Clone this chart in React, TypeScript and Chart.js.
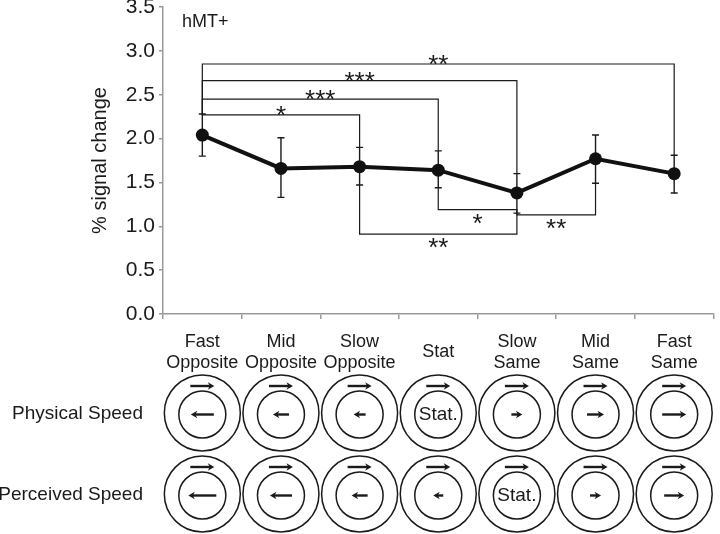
import { useEffect, useRef } from "react";
import { Chart, registerables } from "chart.js";

Chart.register(...registerables);

const categories: (string | string[])[] = [
  ["Fast", "Opposite"],
  ["Mid", "Opposite"],
  ["Slow", "Opposite"],
  "Stat",
  ["Slow", "Same"],
  ["Mid", "Same"],
  ["Fast", "Same"],
];
const meanSignal = [2.04, 1.66, 1.68, 1.64, 1.38, 1.77, 1.6];
const errUpper = [2.28, 2.01, 1.9, 1.86, 1.6, 2.04, 1.81];
const errLower = [1.8, 1.33, 1.47, 1.44, 1.15, 1.49, 1.38];

const yMin = 0;
const yMax = 3.5;
const yStep = 0.5;

const bracketFrom = [0, 0, 0, 0, 2, 3, 4];
const bracketTo = [6, 4, 3, 2, 4, 4, 5];
const bracketLevel = [2.85, 2.66, 2.45, 2.27, 0.91, 1.19, 1.13];
const bracketLabel = ["**", "***", "***", "*", "**", "*", "**"];

// inner-ring drift speed (negative = leftwards, 0 = stationary)
const physicalSpeed = [-2.3, -1.6, -1.2, 0, 1.1, 1.7, 2.4];
const perceivedSpeed = [-2.8, -2.2, -1.6, -1.0, 0, 1.1, 2.0];
const rowLabels = ["Physical Speed", "Perceived Speed"];
const statLabel = "Stat.";
const panelTitle = "hMT+";
const yTitle = "% signal change";

const FONT = "'Liberation Sans', Arial, Helvetica, sans-serif";

function arrow(ctx: CanvasRenderingContext2D, x1: number, x2: number, y: number, lw: number) {
  const dir = x2 > x1 ? 1 : -1;
  const head = 6.5;
  ctx.lineWidth = lw;
  ctx.beginPath();
  ctx.moveTo(x1, y);
  ctx.lineTo(x2 - dir * head * 0.6, y);
  ctx.stroke();
  ctx.beginPath();
  ctx.moveTo(x2, y);
  ctx.lineTo(x2 - dir * head, y - 3.8);
  ctx.lineTo(x2 - dir * head * 0.7, y);
  ctx.lineTo(x2 - dir * head, y + 3.8);
  ctx.closePath();
  ctx.fill();
}

const overlayPlugin = {
  id: "overlay",
  beforeDatasetsDraw(chart: any) {
    const ctx = chart.ctx as CanvasRenderingContext2D;
    const xs = chart.scales.x;
    const ys = chart.scales.y;
    ctx.save();
    ctx.strokeStyle = "#1a1a1a";
    // error bars
    ctx.lineWidth = 1.4;
    for (let i = 0; i < meanSignal.length; i++) {
      const px = xs.getPixelForValue(i);
      const top = ys.getPixelForValue(errUpper[i]);
      const bot = ys.getPixelForValue(errLower[i]);
      ctx.beginPath();
      ctx.moveTo(px, top);
      ctx.lineTo(px, bot);
      ctx.moveTo(px - 3.5, top);
      ctx.lineTo(px + 3.5, top);
      ctx.moveTo(px - 3.5, bot);
      ctx.lineTo(px + 3.5, bot);
      ctx.stroke();
    }
    // significance brackets
    ctx.lineWidth = 1.2;
    ctx.fillStyle = "#1a1a1a";
    ctx.font = `26px ${FONT}`;
    ctx.textAlign = "center";
    ctx.textBaseline = "alphabetic";
    for (let k = 0; k < bracketLevel.length; k++) {
      const a = bracketFrom[k];
      const b = bracketTo[k];
      const lvl = ys.getPixelForValue(bracketLevel[k]);
      const above = bracketLevel[k] > meanSignal[a];
      const xa = xs.getPixelForValue(a);
      const xb = xs.getPixelForValue(b);
      const ea = ys.getPixelForValue(above ? errUpper[a] : errLower[a]);
      const eb = ys.getPixelForValue(above ? errUpper[b] : errLower[b]);
      ctx.beginPath();
      ctx.moveTo(xa, ea);
      ctx.lineTo(xa, lvl);
      ctx.lineTo(xb, lvl);
      ctx.lineTo(xb, eb);
      ctx.stroke();
      const cy = above ? lvl - 6 : lvl + 7;
      ctx.fillText(bracketLabel[k], (xa + xb) / 2, cy + 15);
    }
    ctx.restore();
  },
  afterDraw(chart: any) {
    const ctx = chart.ctx as CanvasRenderingContext2D;
    const xs = chart.scales.x;
    const area = chart.chartArea;
    ctx.save();
    ctx.fillStyle = "#1a1a1a";
    ctx.strokeStyle = "#1a1a1a";
    ctx.font = `18px ${FONT}`;
    ctx.textAlign = "left";
    ctx.textBaseline = "middle";
    ctx.fillText(panelTitle, area.left + 19, 22);

    const rows = [physicalSpeed, perceivedSpeed];
    const rowY = [413, 494];
    for (let r = 0; r < rows.length; r++) {
      const cy = rowY[r];
      ctx.font = `19px ${FONT}`;
      ctx.textAlign = "right";
      ctx.textBaseline = "middle";
      ctx.fillText(rowLabels[r], 143, cy + 1);
      for (let i = 0; i < categories.length; i++) {
        const cx = xs.getPixelForValue(i);
        ctx.lineWidth = 1.5;
        ctx.beginPath();
        ctx.arc(cx, cy, 38, 0, Math.PI * 2);
        ctx.stroke();
        ctx.beginPath();
        ctx.arc(cx, cy + 1.5, 23.5, 0, Math.PI * 2);
        ctx.stroke();
        arrow(ctx, cx - 12, cx + 12, cy - 27, 2.4);
        const v = rows[r][i];
        if (v === 0) {
          ctx.font = `19px ${FONT}`;
          ctx.textAlign = "center";
          ctx.textBaseline = "middle";
          ctx.fillText(statLabel, cx, cy + 2);
        } else {
          const len = Math.abs(v) * 10;
          const d = v > 0 ? 1 : -1;
          arrow(ctx, cx - (d * len) / 2, cx + (d * len) / 2, cy + 1.5, 2.4);
        }
      }
    }
    ctx.restore();
  },
};

export default function App() {
  const ref = useRef<HTMLCanvasElement | null>(null);
  useEffect(() => {
    if (!ref.current) return;
    Chart.defaults.font.family = FONT;
    const chart = new Chart(ref.current, {
      type: "line",
      data: {
        labels: categories as any,
        datasets: [
          {
            data: meanSignal,
            borderColor: "#111",
            backgroundColor: "#111",
            borderWidth: 4,
            pointRadius: 6.5,
            pointBackgroundColor: "#111",
            pointBorderWidth: 0,
            tension: 0,
            clip: false as any,
          },
        ],
      },
      options: {
        animation: false,
        responsive: true,
        maintainAspectRatio: false,
        layout: { padding: { top: 7, right: 1, left: 0, bottom: 0 } },
        plugins: { legend: { display: false }, tooltip: { enabled: false } },
        scales: {
          x: {
            type: "category",
            offset: true,
            grid: { drawOnChartArea: false, offset: true, tickLength: 5, color: "#999", lineWidth: 1.5 },
            border: { color: "#999", width: 1.5 },
            ticks: {
              color: "#1a1a1a",
              font: { size: 18, lineHeight: 1.1667 },
              padding: 23,
              maxRotation: 0,
              autoSkip: false,
              crossAlign: "center",
            },
            afterFit: (s: any) => {
              s.height = 220;
              s.paddingLeft = 0;
              s.paddingRight = 0;
            },
          },
          y: {
            min: yMin,
            max: yMax,
            grid: { drawOnChartArea: false, tickLength: 4, color: "#999", lineWidth: 1.5 },
            border: { color: "#999", width: 1.5 },
            ticks: {
              stepSize: yStep,
              color: "#1a1a1a",
              font: { size: 21 },
              padding: 4,
              callback: (v: any) => Number(v).toFixed(1),
            },
            title: {
              display: true,
              text: yTitle,
              color: "#1a1a1a",
              font: { size: 20 },
              padding: { top: 88, bottom: 0 },
            },
            afterFit: (s: any) => {
              s.width = 163;
              s.paddingTop = 0;
              s.paddingBottom = 0;
            },
          },
        },
      },
      plugins: [overlayPlugin],
    });
    return () => chart.destroy();
  }, []);
  return (
    <div style={{ position: "fixed", left: 0, top: 0, width: 720, height: 534, background: "#fff" }}>
      <canvas ref={ref} />
    </div>
  );
}
